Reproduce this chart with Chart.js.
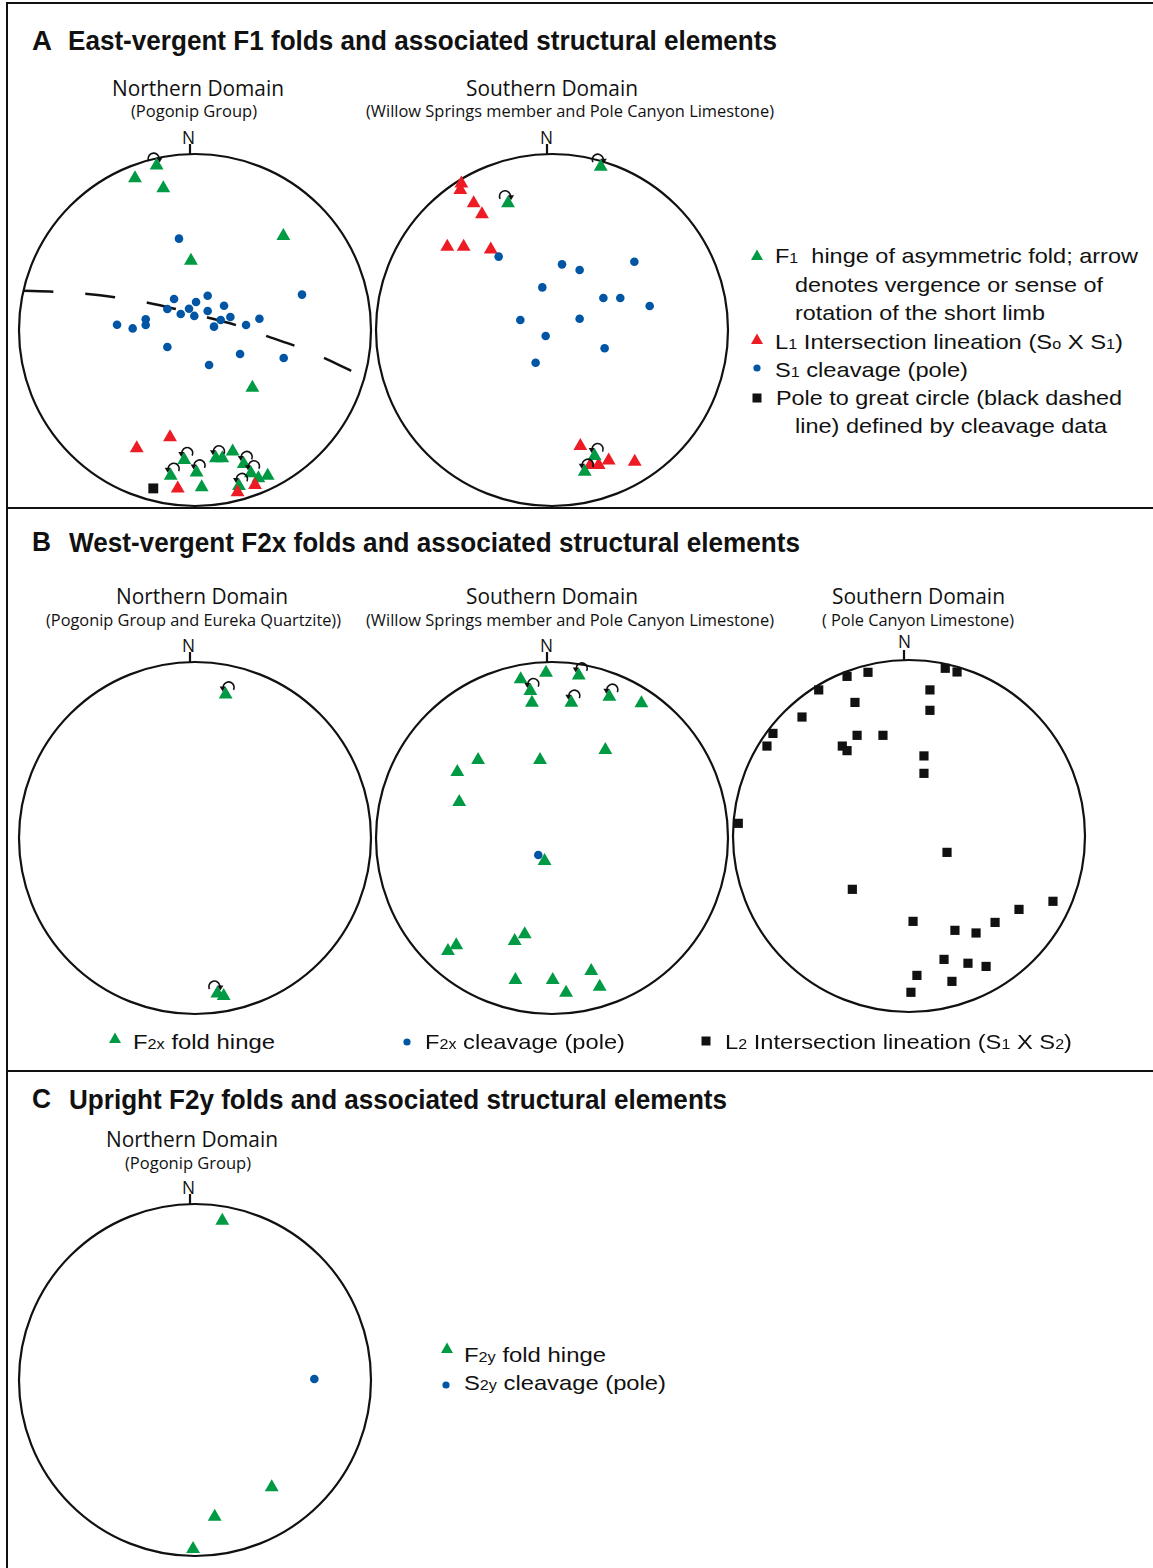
<!DOCTYPE html>
<html>
<head>
<meta charset="utf-8">
<script src="https://cdn.jsdelivr.net/npm/chart.js@4.4.1/dist/chart.umd.min.js"></script>
<style>
  body { margin: 0; background: #fff; }
  #page { position: relative; width: 1153px; height: 1568px; overflow: hidden; background: #fff; }
  .t { position: absolute; white-space: nowrap; line-height: 1; color: #111; transform-origin: 0 50%; }
  .ttl { font-family: "Liberation Sans Narrow", "Liberation Sans", Arial, sans-serif; font-weight: bold; }
  .dom { font-family: "Open Sans", "Noto Sans", sans-serif; }
  .leg { font-family: "Liberation Sans", Arial, sans-serif; }
  .leg small { font-size: 68%; }
  canvas { position: absolute; }
  .rule { position: absolute; background: #111; }
  svg.mk { position: absolute; overflow: visible; }
</style>
</head>
<body>
<div id="page"></div>
<script>
// values are in % of net radius: x = east, y = north

// A - F1, northern domain
var a1Hinge = [[-21.8,93.4],[-34.1,86.2],[-18.0,80.5],[50.2,53.4],[-2.3,39.4],[32.6,-32.8],
  [-6.1,-73.9],[0.9,-80.9],[-13.8,-82.8],[11.9,-72.9],[15.5,-72.9],[21.4,-69.1],[27.7,-76.1],
  [31.8,-81.4],[41.3,-82.8],[3.8,-89.4],[25.0,-88.6],[36.0,-84.3]];
var a1HingeArrow = [-1,0,0,0,0,0, 1,1,1,1,0,0,1, 1,0,0,1,0];
var a1Lineation = [[-33.1,-67.2],[-14.2,-61.0],[-9.8,-90.0],[34.1,-88.1],[24.2,-92.2]];
var a1Cleavage = [[-9.1,51.9],[-11.9,17.6],[-15.7,11.9],[-8.1,9.1],[-3.4,12.1],[0.6,15.9],
  [-0.4,8.0],[7.2,19.5],[7.2,10.8],[16.5,13.8],[20.1,7.4],[14.6,5.7],[10.8,1.9],[29.0,2.8],
  [36.6,6.4],[60.8,20.1],[-44.3,3.0],[-35.4,0.9],[-28.0,6.1],[-28.0,2.8],[-15.7,-9.7],
  [8.0,-19.9],[25.6,-13.6],[50.4,-15.9]];
var a1Pole = [[-23.7,-90.0]];
var a1GreatCircle = [[-97.5,22.3],[-80.5,21.8],[-62.5,20.6],[-45.5,18.6],[-26.9,15.5],
  [-11.7,12.1],[7.6,7.0],[24.2,2.5],[41.7,-3.8],[58.1,-9.5],[74.8,-16.5],[90.5,-24.1]];

// A - F1, southern domain
var a2Hinge = [[27.7,92.8],[-25.0,72.0],[24.2,-71.6],[18.6,-80.5]];
var a2HingeArrow = [-1,-1,1,1];
var a2Lineation = [[-51.5,83.3],[-52.1,79.5],[-44.5,72.0],[-39.8,65.7],[-59.5,47.3],
  [-50.2,47.3],[-34.8,45.8],[16.1,-65.9],[21.8,-76.7],[26.5,-76.7],[32.2,-74.2],[47.0,-74.8]];
var a2Cleavage = [[-30.3,41.7],[5.7,37.3],[15.7,34.1],[46.8,38.8],[-5.5,24.2],[29.2,18.2],
  [38.8,18.2],[55.5,13.6],[-18.0,5.7],[15.7,6.4],[-3.6,-3.4],[29.9,-10.4],[-9.3,-18.6]];

// B - F2x
var b1Hinge = [[17.4,81.6],[12.7,-88.4],[16.3,-89.8]];
var b1HingeArrow = [1,-1,0];
var b2Hinge = [[-3.4,93.9],[-17.8,90.2],[15.2,92.4],[-12.3,83.5],[-11.4,76.9],[11.0,76.9],
  [32.6,80.3],[50.8,76.5],[30.3,50.0],[-42.0,44.3],[-6.8,44.3],[-53.8,37.5],[-52.7,20.5],
  [-4.2,-13.1],[-15.5,-54.7],[-21.2,-58.5],[-54.4,-61.0],[-59.1,-64.2],[-20.8,-80.7],
  [0.4,-80.7],[8.0,-87.9],[22.3,-75.6],[27.1,-84.5]];
var b2HingeArrow = [0,0,1,1,0,1,1,0,0,0,0,0,0,0,0,0,0,0,0,0,0,0,0];
var b2Cleavage = [[-7.8,-9.7]];
var b3Lineation = [[20.6,95.3],[27.3,93.2],[-23.3,93.0],[-35.2,90.7],[-51.3,83.0],[11.9,83.0],
  [-30.7,75.9],[11.9,71.4],[-60.8,67.6],[-77.3,58.3],[-80.7,51.1],[-29.5,57.2],[-14.8,57.2],
  [-37.9,51.1],[-35.2,48.5],[8.5,45.5],[8.5,35.6],[-97.0,7.2],[21.6,-9.3],[-32.2,-30.3],
  [81.8,-37.1],[62.5,-41.7],[48.9,-49.1],[2.3,-48.5],[26.1,-53.6],[38.1,-55.1],[19.9,-70.1],
  [33.5,-72.3],[43.8,-74.1],[4.5,-79.2],[24.4,-82.6],[1.1,-88.8]];

// C - F2y
var c1Hinge = [[15.5,90.5],[43.6,-61.0],[11.2,-77.7],[-1.1,-96.0]];
var c1Cleavage = [[67.8,0.6]];

var GREEN = '#009a44', RED = '#ed1c24', BLUE = '#0055a5', BLACK = '#111';
var page = document.getElementById('page');

function pts(a) { return a.map(function (p) { return { x: p[0], y: p[1] }; }); }
function tri(a, color, arrows) {
  return { data: pts(a), pointStyle: 'triangle', pointRadius: 8, pointHoverRadius: 8,
    pointBackgroundColor: color, pointBorderWidth: 0, arrows: arrows, clip: false };
}
function dot(a) {
  return { data: pts(a), pointStyle: 'circle', pointRadius: 4.3, pointHoverRadius: 4.3,
    pointBackgroundColor: BLUE, pointBorderWidth: 0, clip: false };
}
function sq(a, r) {
  return { data: pts(a), pointStyle: 'rect', pointRadius: r, pointHoverRadius: r,
    pointBackgroundColor: BLACK, pointBorderWidth: 0, clip: false };
}
function dashed(a) {
  return { data: pts(a), showLine: true, borderColor: BLACK, borderWidth: 2.5, borderDash: [30, 32],
    pointRadius: 0, fill: false, tension: 0.3, order: 10, clip: false };
}

// net outline, north tick and fold-vergence arrows
var netPlugin = {
  id: 'net',
  beforeDatasetsDraw: function (chart) {
    var ctx = chart.ctx, sx = chart.scales.x, sy = chart.scales.y;
    var cx = sx.getPixelForValue(0), cy = sy.getPixelForValue(0);
    var r = sx.getPixelForValue(100) - cx;
    ctx.save();
    ctx.strokeStyle = BLACK;
    ctx.lineWidth = 2.2;
    ctx.beginPath();
    ctx.arc(cx, cy, r, 0, Math.PI * 2);
    ctx.stroke();
    ctx.beginPath();
    ctx.moveTo(cx - 5, cy - r + 1);
    ctx.lineTo(cx - 5, cy - r - 10);
    ctx.stroke();
    ctx.restore();
  },
  afterDatasetsDraw: function (chart) {
    var ctx = chart.ctx;
    chart.data.datasets.forEach(function (ds, i) {
      if (!ds.arrows) return;
      var meta = chart.getDatasetMeta(i);
      meta.data.forEach(function (el, j) {
        var s = ds.arrows[j];
        if (!s) return;
        var ax = 3, ay = -7, r = 5.5;
        ctx.save();
        ctx.translate(el.x, el.y);
        ctx.scale(s, 1);
        ctx.strokeStyle = BLACK; ctx.fillStyle = BLACK; ctx.lineWidth = 1.6;
        ctx.beginPath();
        ctx.arc(ax, ay, r, Math.PI * 0.15, Math.PI, true);
        ctx.stroke();
        ctx.beginPath();
        ctx.moveTo(ax - r - 0.5, ay + 4);
        ctx.lineTo(ax - r - 3.5, ay - 1);
        ctx.lineTo(ax - r + 2.5, ay - 1);
        ctx.closePath();
        ctx.fill();
        ctx.restore();
      });
    });
  }
};

function net(cx, cy, datasets) {
  var c = document.createElement('canvas');
  c.width = 380; c.height = 380;
  c.style.left = (cx - 190) + 'px'; c.style.top = (cy - 190) + 'px';
  c.style.width = '380px'; c.style.height = '380px';
  page.appendChild(c);
  new Chart(c, {
    type: 'scatter',
    data: { datasets: datasets },
    options: {
      responsive: false,
      animation: false,
      events: [],
      layout: { padding: 14 },
      scales: {
        x: { type: 'linear', min: -100, max: 100, display: false },
        y: { type: 'linear', min: -100, max: 100, display: false }
      },
      plugins: { legend: { display: false }, tooltip: { enabled: false } }
    },
    plugins: [netPlugin]
  });
}

function txt(html, cls, x, y, size, w) {
  var d = document.createElement('div');
  d.className = 't ' + cls;
  d.innerHTML = html;
  d.style.fontSize = size + 'px';
  d.style.left = x + 'px';
  d.style.top = (y - size / 2) + 'px';
  d.dataset.w = w;
  page.appendChild(d);
}

function rule(x, y, w, h) {
  var d = document.createElement('div');
  d.className = 'rule';
  d.style.left = x + 'px'; d.style.top = y + 'px';
  d.style.width = w + 'px'; d.style.height = h + 'px';
  page.appendChild(d);
}

function marker(kind, x, y) {
  var s = document.createElementNS('http://www.w3.org/2000/svg', 'svg');
  s.setAttribute('class', 'mk');
  s.setAttribute('width', 16); s.setAttribute('height', 16);
  s.style.left = (x - 8) + 'px'; s.style.top = (y - 8) + 'px';
  var p;
  if (kind === 'tg' || kind === 'tr') {
    p = document.createElementNS(s.namespaceURI, 'polygon');
    p.setAttribute('points', '8,2.5 14,13 2,13');
    p.setAttribute('fill', kind === 'tg' ? GREEN : RED);
  } else if (kind === 'dot') {
    p = document.createElementNS(s.namespaceURI, 'circle');
    p.setAttribute('cx', 8); p.setAttribute('cy', 8); p.setAttribute('r', 3.6);
    p.setAttribute('fill', BLUE);
  } else {
    p = document.createElementNS(s.namespaceURI, 'rect');
    p.setAttribute('x', 3.5); p.setAttribute('y', 3.5); p.setAttribute('width', 9); p.setAttribute('height', 9);
    p.setAttribute('fill', BLACK);
  }
  s.appendChild(p);
  page.appendChild(s);
}

// frame
rule(6, 2, 1147, 2);
rule(6, 2, 2, 1566);
rule(6, 507, 1147, 2);
rule(6, 1070, 1147, 2);

// titles
txt('A', 'ttl', 32, 41, 27, 20);
txt('East-vergent F1 folds and associated structural elements', 'ttl', 68, 41, 27, 709);
txt('B', 'ttl', 32, 542, 27, 19);
txt('West-vergent F2x folds and associated structural elements', 'ttl', 69, 543, 27, 731);
txt('C', 'ttl', 32, 1099, 27, 19);
txt('Upright F2y folds and associated structural elements', 'ttl', 69, 1100, 27, 658);

// domain headings
txt('Northern Domain', 'dom', 112, 88, 21, 172);
txt('(Pogonip Group)', 'dom', 131, 111, 16, 126);
txt('Southern Domain', 'dom', 466, 88, 21, 172);
txt('(Willow Springs member and Pole Canyon Limestone)', 'dom', 366, 111, 16, 408);
txt('Northern Domain', 'dom', 116, 596, 21, 172);
txt('(Pogonip Group and Eureka Quartzite))', 'dom', 46, 620, 16, 295);
txt('Southern Domain', 'dom', 466, 596, 21, 172);
txt('(Willow Springs member and Pole Canyon Limestone)', 'dom', 366, 620, 16, 408);
txt('Southern Domain', 'dom', 832, 596, 21, 173);
txt('( Pole Canyon Limestone)', 'dom', 822, 620, 16, 192);
txt('Northern Domain', 'dom', 106, 1139, 21, 172);
txt('(Pogonip Group)', 'dom', 125, 1163, 16, 126);

// north labels
[[188, 137], [546, 137], [188, 645], [546, 645], [904, 641], [188, 1187]].forEach(function (p) {
  txt('N', 'dom', p[0] - 6, p[1], 19, 13);
});

// nets
net(195, 330, [dot(a1Cleavage), tri(a1Lineation, RED), tri(a1Hinge, GREEN, a1HingeArrow), sq(a1Pole, 7), dashed(a1GreatCircle)]);
net(552, 330, [dot(a2Cleavage), tri(a2Hinge, GREEN, a2HingeArrow), tri(a2Lineation, RED)]);
net(195, 838, [tri(b1Hinge, GREEN, b1HingeArrow)]);
net(552, 838, [dot(b2Cleavage), tri(b2Hinge, GREEN, b2HingeArrow)]);
net(909, 836, [sq(b3Lineation, 6.5)]);
net(195, 1380, [dot(c1Cleavage), tri(c1Hinge, GREEN)]);

// legend A
marker('tg', 757, 255);
txt('F<small>1</small>&nbsp; hinge of asymmetric fold; arrow', 'leg', 775, 255, 21, 363);
txt('denotes vergence or sense of', 'leg', 795, 284, 21, 308);
txt('rotation of the short limb', 'leg', 795, 312, 21, 250);
marker('tr', 757, 339);
txt('L<small>1</small> Intersection lineation (S<small>o</small> X S<small>1</small>)', 'leg', 775, 341, 21, 348);
marker('dot', 757, 368);
txt('S<small>1</small> cleavage (pole)', 'leg', 775, 369, 21, 193);
marker('sq', 757, 398);
txt('Pole to great circle (black dashed', 'leg', 776, 397, 21, 346);
txt('line) defined by cleavage data', 'leg', 795, 425, 21, 312);

// legend B
marker('tg', 115, 1038);
txt('F<small>2x</small> fold hinge', 'leg', 133, 1041, 21, 142);
marker('dot', 407, 1042);
txt('F<small>2x</small> cleavage (pole)', 'leg', 425, 1041, 21, 200);
marker('sq', 706, 1041);
txt('L<small>2</small> Intersection lineation (S<small>1</small> X S<small>2</small>)', 'leg', 725, 1041, 21, 347);

// legend C
marker('tg', 447, 1348);
txt('F<small>2y</small> fold hinge', 'leg', 464, 1354, 21, 142);
marker('dot', 446, 1385);
txt('S<small>2y</small> cleavage (pole)', 'leg', 464, 1382, 21, 202);

// squeeze each text line to the width it has in the figure
document.querySelectorAll('.t').forEach(function (el) {
  var w = +el.dataset.w, a = el.getBoundingClientRect().width;
  if (a > 0) el.style.transform = 'scaleX(' + (w / a) + ')';
});
</script>
</body>
</html>
